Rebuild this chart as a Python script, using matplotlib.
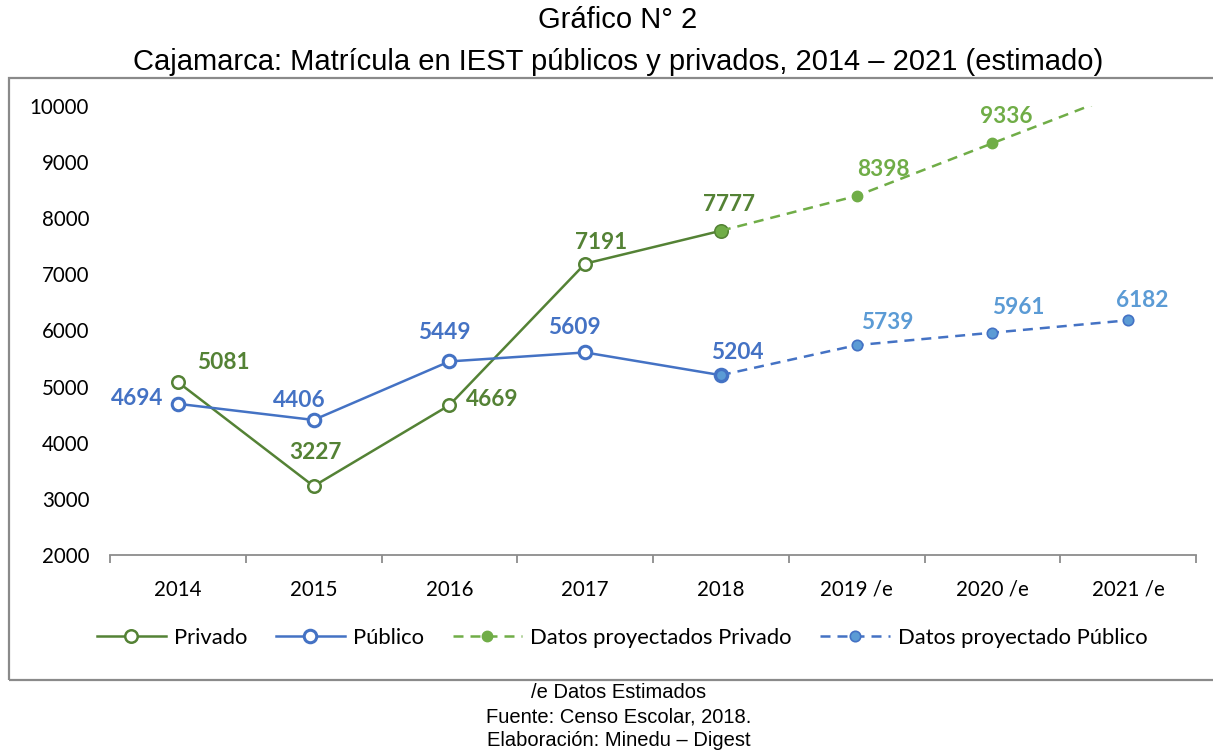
import matplotlib
matplotlib.use('Agg')
import matplotlib.pyplot as plt
from matplotlib.patches import Rectangle
from matplotlib.ticker import FixedLocator

# data
categorias = ['2014', '2015', '2016', '2017', '2018', '2019 /e', '2020 /e', '2021 /e']
privado = [5081, 3227, 4669, 7191, 7777]
publico = [4694, 4406, 5449, 5609, 5204]
proy_privado = [7777, 8398, 9336, 10270]   # 2021 falls above the axis limit
proy_publico = [5204, 5739, 5961, 6182]

x_hist = list(range(len(privado)))
x_proy = list(range(len(privado) - 1, len(categorias)))

# colors
c_priv = '#548235'
c_priv_p = '#70AD47'
c_pub = '#4472C4'
c_pub_p = '#5B9BD5'

plt.rcParams['font.family'] = ['Lato', 'DejaVu Sans']

fig = plt.figure(figsize=(12.13, 7.53), dpi=100)
ax = fig.add_axes([110/1213, 1-555/753, (1196-110)/1213, (555-106)/753])

lw = 1.8
ax.plot(x_hist, privado, '-', color=c_priv, lw=lw, marker='o', ms=9,
        mfc='white', mec=c_priv, mew=1.8, label='Privado', zorder=3)
ax.plot(x_hist, publico, '-', color=c_pub, lw=lw, marker='o', ms=9,
        mfc='white', mec=c_pub, mew=2.2, label='Público', zorder=3)
ax.plot(x_proy, proy_privado, color=c_priv_p, lw=lw, dashes=(4, 2.8), marker='o',
        ms=7.5, mfc=c_priv_p, mec=c_priv_p, label='Datos proyectados Privado', zorder=4)
ax.plot(x_proy, proy_publico, color=c_pub, lw=lw, dashes=(4, 2.8), marker='o',
        ms=7.5, mfc=c_pub_p, mec=c_pub, mew=1.2, label='Datos proyectado Público', zorder=4)

# data labels (offsets in points)
off_priv = [(33, 14), (1.5, 24), (31, 4), (11.5, 15), (6, 19)]
off_pub = [(-29, 4), (-10, 14), (-3.5, 21), (-8, 18), (12, 16)]
off_priv_p = [None, (19, 19), (10, 19), None]
off_pub_p = [None, (22, 16.5), (19, 18), (10, 14)]

def etiquetas(xs, ys, offs, color):
    for xi, yi, off in zip(xs, ys, offs):
        if off is None:
            continue
        ax.annotate(str(yi), (xi, yi), xytext=off, textcoords='offset points',
                    ha='center', va='center', fontsize=16.3, fontweight='bold',
                    color=color, zorder=6)

etiquetas(x_hist, privado, off_priv, c_priv)
etiquetas(x_hist, publico, off_pub, c_pub)
etiquetas(x_proy, proy_privado, off_priv_p, c_priv_p)
etiquetas(x_proy, proy_publico, off_pub_p, c_pub_p)

ax.set_xlim(-0.5, len(categorias) - 0.5)
ax.set_ylim(2000, 10000)
ax.set_yticks(range(2000, 10001, 1000))
ax.set_xticks(range(len(categorias)))
ax.set_xticklabels(categorias)
ax.xaxis.set_minor_locator(FixedLocator([i - 0.5 for i in range(len(categorias) + 1)]))
ax.tick_params(axis='x', which='major', length=0, pad=18, labelsize=14.8)
ax.tick_params(axis='x', which='minor', length=6, width=1.3, color='#8c8c8c', direction='out')
ax.tick_params(axis='y', length=0, pad=15, labelsize=14.8)
for s in ['left', 'right', 'top']:
    ax.spines[s].set_visible(False)
ax.spines['bottom'].set_color('#8c8c8c')
ax.spines['bottom'].set_linewidth(1.3)

leg = fig.legend(loc='center', bbox_to_anchor=(622/1213, 1-638/753), ncol=4,
                 frameon=False, fontsize=15.8, handlelength=3.15,
                 handletextpad=0.38, columnspacing=1.3)

# outer box
fig.patches.append(Rectangle((9/1213, 1-680/753), 1.2, (680-78)/753,
                             transform=fig.transFigure, fill=False,
                             edgecolor='#8a8a8a', lw=1.6, zorder=0))

arial = ['Liberation Sans', 'DejaVu Sans']
fig.text(618/1213, 1-20/753, 'Gráfico N° 2', ha='center', va='center',
         fontsize=21, family=arial)
fig.text(618/1213, 1-62/753,
         'Cajamarca: Matrícula en IEST públicos y privados, 2014 – 2021 (estimado)',
         ha='center', va='center', fontsize=21, family=arial)
notas = ['/e Datos Estimados', 'Fuente: Censo Escolar, 2018.', 'Elaboración: Minedu – Digest']
for i, t in enumerate(notas):
    fig.text(619/1213, 1-(693+24*i)/753, t, ha='center', va='center',
             fontsize=14.5, family=arial)

fig.savefig('out.png', dpi=100)
